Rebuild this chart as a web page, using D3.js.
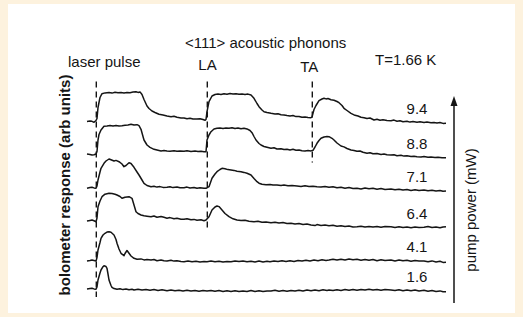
<!DOCTYPE html>
<html>
<head>
<meta charset="utf-8">
<script src="https://cdn.jsdelivr.net/npm/d3@7/dist/d3.min.js"></script>
<style>
  html, body { margin: 0; padding: 0; background: #fdf2de; }
  svg { display: block; }
</style>
</head>
<body>
<div id="chart"></div>
<script>
// pump power of each trace, top to bottom (mW)
const powers = ["9.4", "8.8", "7.1", "6.4", "4.1", "1.6"];
// vertical offset of each trace baseline (arb units)
const offsets = [178.5, 145.5, 112, 79, 39.5, 11];

// time (arb) / response (arb)
const trace94 = [[0,0],[3,0.6],[5,0.2],[7,-0.8],[9,1],[10,3],[11,14],[13,24],[15,27.8],[18,28.6],[22,28.9],[25,28.4],[28,29.2],[31,28.7],[34,29],[37,28.5],[40,29.1],[43,28.8],[46,29.4],[49,29.8],[51,29.1],[53,29.6],[55,27],[57,22],[60,15.5],[62,13],[65,10.5],[68,9],[72,7.2],[76,6.5],[80,5.5],[84,4.8],[87,5.2],[90,4.2],[94,3.6],[97,3.4],[100,2.8],[103,3.2],[106,2.6],[110,2.4],[113,2.7],[116,2],[118,1.2],[119,2],[120,9.8],[122,19.8],[125,25.5],[128,27],[131,27.6],[134,27.1],[137,27.8],[140,27.3],[143,27.9],[146,27.4],[149,27.7],[152,27.2],[155,27.6],[158,27],[161,27.4],[164,26.5],[167,23.2],[170,18],[172,14.8],[175,11.5],[177,9.8],[180,9],[184,8.2],[188,7.6],[191,7.8],[194,6.8],[197,6.5],[200,6],[203,5.6],[206,6],[209,4.9],[212,5],[215,4.3],[218,4.6],[221,4],[224,3.8],[225,4.5],[227,12],[229,16],[232,20.8],[235,22.5],[237,23.2],[239,22.6],[241,23],[244,21.8],[247,21.3],[250,20],[252,18.8],[255,16],[257,13.2],[260,11],[264,8.2],[268,6.2],[271,5.5],[274,4.2],[277,3.8],[280,3.1],[283,3.5],[287,1.5],[290,2.2],[293,1.2],[296,1.8],[300,1],[304,0.8],[307,1.4],[310,0.3],[313,0.8],[316,-0.2],[320,0.3],[323,-0.6],[326,0],[330,-0.8],[333,-0.3],[337,-1],[340,-0.5],[344,-1.3],[347,-0.9],[350,-1.5],[353,-1],[356,-1.9],[359,-1.7]];
const trace88 = [[0,0.5],[3,0],[5,-0.5],[7,-0.2],[9,0.5],[10,3],[11,14.5],[12,20],[14,24.5],[17,28.3],[20,28.6],[23,29],[26,28.5],[29,28.9],[32,28.4],[35,28.7],[38,29.2],[41,29.6],[44,30.2],[47,29.5],[50,29.8],[52,28.8],[54,25.2],[56,18],[57,14.5],[60,9.5],[63,7.2],[67,5.2],[70,4.6],[74,3.6],[77,4],[80,3.5],[83,3.2],[87,3.8],[90,3.2],[93,3.5],[97,3.3],[100,3.7],[104,3],[108,3.4],[111,2.9],[114,3.2],[117,2.8],[119,2.8],[120,14.5],[122,19.5],[124,22.8],[127,25.5],[130,26.2],[133,26.6],[136,26.1],[139,26.5],[142,26.2],[145,26.7],[148,26],[151,26.4],[154,25.8],[157,26.2],[160,25.6],[163,24],[165,21.8],[167,18],[169,14.5],[172,11],[174,9.5],[177,8],[180,7.2],[184,6.2],[187,6.8],[190,5.5],[194,5.8],[197,5],[200,5.2],[203,4.6],[206,5.2],[209,4.2],[212,4.5],[215,3.8],[218,3.4],[221,3.9],[224,3.6],[226,4.2],[228,7.5],[230,11.2],[232,14],[234,16.2],[237,17.5],[240,18],[242,17.8],[245,16.2],[247,14.5],[250,11.5],[254,8.5],[257,7.6],[260,6],[264,4.5],[267,4],[270,3.2],[273,3.5],[276,2.2],[280,1.2],[283,1.8],[286,0.7],[290,1],[294,0],[297,0.4],[300,-0.3],[304,-0.5],[307,-0.2],[310,-1.2],[314,-0.8],[317,-1.6],[320,-1.3],[324,-2],[327,-1.7],[330,-2.2],[334,-2.5],[337,-2],[341,-2.8],[344,-2.4],[348,-3],[351,-2.7],[355,-3.3],[359,-3.2]];
const trace71 = [[0,-0.3],[3,0.4],[5,0.7],[7,0.1],[9,-0.3],[10,2],[11,8],[13,16],[14,19.7],[17,24.7],[19,27],[22,29],[24,28.2],[27,27],[29,27.6],[32,26.3],[35,24],[37,21.3],[39,22.5],[42,25.3],[44,24.5],[47,20.7],[50,16],[52,13],[55,8],[57,4.7],[60,2.5],[64,1.3],[67,1.8],[70,0.9],[73,1.4],[76,0.6],[80,0.7],[83,1.3],[86,0.4],[90,0.9],[93,0.2],[97,0.3],[100,0.9],[103,0],[107,0.5],[110,-0.2],[113,0.3],[117,-0.3],[119,-0.3],[122,1.3],[125,9.7],[128,14],[130,16.3],[133,18.5],[135,19.7],[138,19.2],[141,18.4],[144,18],[147,17.6],[150,16.8],[154,16.3],[157,15.6],[160,14.7],[164,13],[167,9.5],[170,6.3],[172,4.8],[175,3.7],[179,3.2],[183,3.6],[186,2.9],[190,3],[194,2.4],[197,2.9],[201,2.2],[205,2.5],[210,2],[214,1.6],[218,2.2],[222,1.4],[226,1.8],[230,1.3],[234,0.9],[238,1.5],[242,0.7],[246,1.2],[250,0.2],[254,0.8],[258,-0.2],[262,0.5],[266,-0.5],[270,-0.3],[274,-0.9],[278,0],[282,-0.8],[286,-0.3],[290,-1.2],[294,-0.6],[298,-1.4],[304,-1],[308,-1.8],[312,-1.2],[316,-2],[320,-1.5],[324,-2.4],[328,-1.8],[332,-2.6],[337,-2],[341,-2.8],[345,-2.3],[349,-3.1],[353,-2.6],[356,-3.3],[359,-3]];
const trace64 = [[0,0],[3,0.6],[5,1],[7,0.2],[9,-0.7],[10,3],[11,14.3],[13,20],[15,24.3],[18,26.8],[22,27.7],[25,27.4],[28,26.8],[30,26],[33,24.5],[35,22.7],[38,23.8],[42,24.3],[45,22.7],[47,16],[49,9.3],[51,7.5],[54,6],[57,5.2],[60,4.8],[64,4.3],[67,5],[70,3.8],[74,4.4],[77,3.7],[80,2.8],[83,3.4],[87,2.2],[90,2.8],[94,1.8],[97,1.7],[100,2.3],[104,1.2],[107,1.6],[110,0.8],[114,1.2],[117,0.3],[119,1],[122,4.3],[125,11],[128,14],[130,15],[132,14.4],[135,11],[138,7.5],[142,4.3],[146,2.2],[150,1],[154,0.4],[158,0.8],[162,-0.2],[167,-0.7],[171,-0.3],[175,-1.2],[179,-0.9],[184,-1.7],[188,-1.3],[192,-2.1],[196,-1.6],[200,-2.4],[204,-2.3],[208,-2.9],[212,-2.5],[216,-3.4],[220,-3],[224,-4],[228,-4.6],[230,-3.6],[234,-4.4],[238,-4.1],[242,-4.7],[246,-4.3],[250,-5.2],[254,-4.8],[258,-5.5],[262,-5],[266,-5.9],[270,-5.7],[274,-5.2],[278,-6],[282,-5.4],[286,-6.1],[290,-5.6],[294,-6.3],[298,-5.5],[304,-5.7],[308,-6.4],[312,-5.8],[316,-6.5],[320,-6],[324,-6.8],[328,-6.1],[332,-6.6],[337,-6.3],[341,-5.6],[345,-6.5],[349,-6.1],[353,-6.8],[356,-6],[359,-5.7]];
const trace41 = [[0,-0.5],[3,0],[5,0.5],[7,0],[9,-0.5],[10,3],[11,10.5],[13,18],[14,22.2],[16,25.5],[18,27.2],[20,28.4],[22,28.8],[24,28.2],[27,25.5],[29,21],[30,17.2],[32,11.5],[34,7.2],[37,4.8],[38,7],[40,10],[42,7.2],[44,4.5],[47,2.2],[50,1.2],[54,1.6],[57,0.6],[60,1.1],[64,0.5],[67,1],[70,-0.2],[74,0.4],[77,-0.3],[80,-0.5],[84,0.2],[87,-0.6],[90,-0.2],[94,-1],[97,-1.2],[101,-0.5],[105,-1.3],[109,-0.7],[113,-1.4],[117,-0.9],[120,-1.2],[124,-0.6],[128,-1.3],[132,-0.8],[136,-1.5],[140,-0.9],[144,-1.2],[148,-0.4],[152,-1.1],[156,-0.5],[160,-1.3],[164,-0.7],[168,-1.4],[172,-0.6],[176,-1.5],[180,-0.8],[183,-1.2],[187,-0.4],[191,-1.1],[195,-0.3],[199,-1],[203,-0.2],[207,-0.9],[211,0],[215,-0.6],[219,0.3],[223,-0.4],[227,0.5],[231,-0.2],[235,0.8],[239,0.1],[242,0.5],[246,1.2],[250,0.4],[254,1.3],[258,0.6],[262,1.4],[266,0.7],[270,1.2],[274,0.3],[278,1.1],[282,0.2],[286,1],[290,-0.2],[294,0.8],[298,0],[304,0.5],[308,-0.4],[312,0.6],[316,-0.3],[320,0.2],[324,-0.8],[328,0.1],[332,-0.5],[337,-0.5],[341,-1.3],[345,-0.4],[349,-1.5],[353,-0.8],[356,-1.9],[359,-1.8]];
const trace16 = [[0,0],[3,0.4],[5,0.7],[7,0.1],[9,-0.3],[10,2],[11,9],[13,16],[14,19],[16,22.3],[17,23.3],[19,22.5],[20,20.7],[21,15],[22,9],[24,3.5],[25,1.7],[27,0.4],[30,-0.3],[33,0.3],[36,-0.6],[39,0],[42,-0.8],[45,-0.2],[47,-1],[51,-0.3],[55,-1.1],[59,-0.5],[63,-1.3],[67,-0.6],[71,-1.4],[75,-0.8],[80,-1.7],[84,-1],[88,-1.8],[92,-1.2],[96,-2],[100,-1.3],[104,-2.1],[108,-1.4],[112,-2.2],[116,-1.5],[120,-2],[124,-1.4],[128,-2.3],[132,-1.6],[136,-2.4],[140,-1.7],[144,-2.5],[148,-1.8],[152,-2.6],[156,-1.9],[160,-2.4],[164,-1.6],[168,-2.5],[172,-1.8],[176,-2.6],[180,-1.9],[184,-2],[188,-1.3],[192,-2.2],[196,-1.5],[200,-2.3],[204,-1.4],[208,-2.1],[212,-1.2],[216,-2],[220,-1.1],[224,-1.8],[228,-0.9],[232,-1.7],[236,-0.8],[240,-1.5],[242,-1],[246,-1.6],[250,-0.7],[254,-1.4],[258,-0.6],[262,-1.3],[266,-0.5],[270,-1.2],[274,-0.4],[278,-1.1],[282,-0.3],[286,-1],[290,-0.4],[294,-1.2],[298,-0.5],[304,-1],[308,-1.6],[312,-0.8],[316,-1.7],[320,-0.9],[324,-1.8],[328,-1.1],[332,-2],[337,-1.3],[341,-2.2],[345,-1.6],[349,-2.4],[353,-1.9],[356,-2.8],[359,-2.7]];

// arrival times of the marked features and how many traces they cross
const markerNames = ["laser pulse", "LA", "TA"];
const markerTimes = [9.3, 120.3, 225.3];
const markerDepth = [6, 4, 2];

const title = "<111> acoustic phonons";
const temperature = "T=1.66 K";
const yLabel = "bolometer response (arb units)";
const powerLabel = "pump power (mW)";

(function() {
  const traces = [trace94, trace88, trace71, trace64, trace41, trace16];

  const W = 523;
  const H = 317;
  const FONT = "'Liberation Sans', Arial, sans-serif";
  const ink = "#151515";

  const svg = d3.select("#chart").append("svg")
    .attr("width", W)
    .attr("height", H);

  svg.append("rect").attr("width", W).attr("height", H).attr("fill", "#fdf2de");
  svg.append("rect")
    .attr("x", 8).attr("y", 4)
    .attr("width", 507).attr("height", 309)
    .attr("fill", "#ffffff");

  const x = d3.scaleLinear().domain([0, 359]).range([87, 446]);
  const y = d3.scaleLinear().domain([0, 220]).range([300, 80]);

  const line = offset => d3.line()
    .x(d => x(d[0]))
    .y(d => y(offset + d[1]));

  // dashed arrival markers
  const top = y(offsets[0]) - 40;
  svg.append("g").selectAll("line")
    .data(markerTimes)
    .join("line")
    .attr("x1", d => x(d)).attr("x2", d => x(d))
    .attr("y1", top)
    .attr("y2", (d, i) => y(offsets[markerDepth[i] - 1]) + 8)
    .attr("stroke", ink)
    .attr("stroke-width", 1.4)
    .attr("stroke-dasharray", "6,4");

  svg.append("g").selectAll("path")
    .data(traces)
    .join("path")
    .attr("d", (d, i) => line(offsets[i])(d))
    .attr("fill", "none")
    .attr("stroke", ink)
    .attr("stroke-width", 1.5)
    .attr("stroke-linejoin", "round");

  // power labels sit just above each trace near its right end
  const valueAt = (tr, t) => tr.reduce((a, b) => Math.abs(b[0] - t) < Math.abs(a[0] - t) ? b : a)[1];
  svg.append("g").selectAll("text")
    .data(powers)
    .join("text")
    .attr("x", 417)
    .attr("y", (d, i) => y(offsets[i] + valueAt(traces[i], 330)) - 8)
    .attr("text-anchor", "middle")
    .style("font-family", FONT)
    .style("font-size", "15px")
    .style("fill", ink)
    .text(d => d);

  const label = (txt, px, py) => svg.append("text")
    .attr("x", px).attr("y", py)
    .style("font-family", FONT)
    .style("font-size", "15px")
    .style("fill", ink)
    .text(txt);

  label(title, 185, 48);
  label(temperature, 375, 65);
  label(markerNames[0], 68, 67);
  label(markerNames[1], x(markerTimes[1]) - 9, 70);
  label(markerNames[2], x(markerTimes[2]) - 12, 72);

  svg.append("text")
    .attr("transform", "translate(69.5,185) rotate(-90)")
    .attr("text-anchor", "middle")
    .style("font-family", FONT)
    .style("font-size", "15px")
    .style("font-weight", "bold")
    .style("fill", ink)
    .text(yLabel);

  svg.append("text")
    .attr("transform", "translate(476,210) rotate(-90)")
    .attr("text-anchor", "middle")
    .style("font-family", FONT)
    .style("font-size", "15px")
    .style("fill", ink)
    .text(powerLabel);

  // pump power arrow
  svg.append("line")
    .attr("x1", 454).attr("x2", 454)
    .attr("y1", 303).attr("y2", 104)
    .attr("stroke", ink)
    .attr("stroke-width", 1.5);
  svg.append("path")
    .attr("d", "M454,96 L450.5,106 L457.5,106 Z")
    .attr("fill", ink);
})();
</script>
</body>
</html>
